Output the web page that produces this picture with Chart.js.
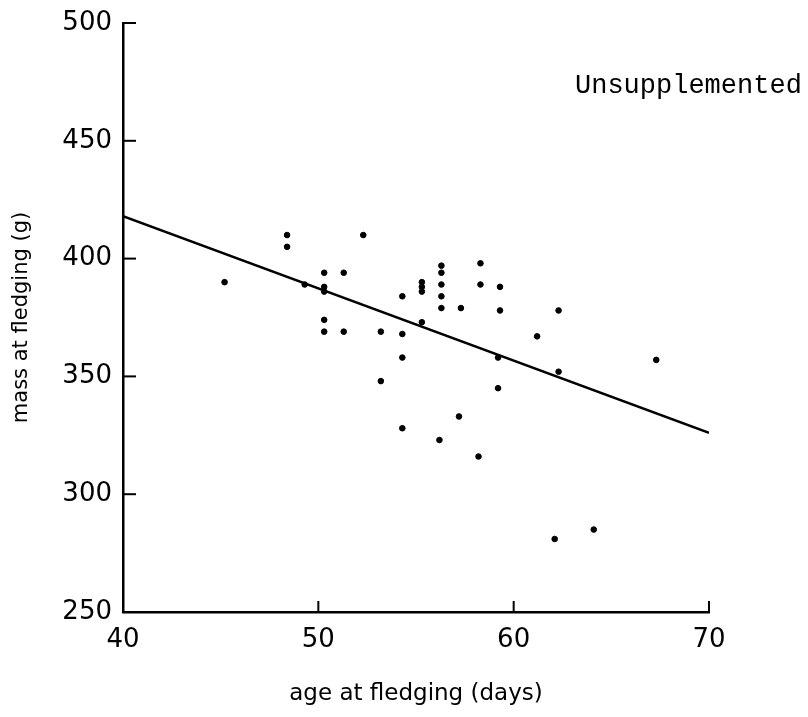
<!DOCTYPE html>
<html>
<head>
<meta charset="utf-8">
<script src="https://cdn.jsdelivr.net/npm/chart.js@4"></script>
<style>
  html, body { margin: 0; padding: 0; background: #fff; }
</style>
</head>
<body>
<canvas id="chart" width="808" height="717"></canvas>
<script>
// fledglings: age (days) and mass (g)
const ageDays = [
  45.2, 48.4, 48.4, 49.3, 50.3, 50.3, 50.3, 50.3, 50.3, 51.3, 51.3, 52.3,
  53.2, 53.2, 54.3, 54.3, 54.3, 54.3, 55.3, 55.3, 55.3, 55.3,
  56.3, 56.3, 56.3, 56.3, 56.3, 56.2, 57.3, 57.2, 58.3, 58.3, 58.2,
  59.3, 59.3, 59.2, 59.2, 61.2, 62.3, 62.3, 62.1, 64.1, 67.3
];
const massGrams = [
  390, 410, 405, 389, 394, 388, 386, 374, 369, 394, 369, 410,
  369, 348, 384, 368, 358, 328, 390, 388, 386, 373,
  397, 394, 389, 384, 379, 323, 379, 333, 398, 389, 316,
  388, 378, 358, 345, 367, 378, 352, 281, 285, 357
];
// fitted regression line end points
const fitAges = [40, 70];
const fitMass = [418, 326];

const xTickValues = [40, 50, 60, 70];
const yTickValues = [250, 300, 350, 400, 450, 500];
const panelLabel = 'Unsupplemented';

const black = '#000';

// tick marks point into the plot, so draw them by hand from the scales
const innerTicks = {
  id: 'innerTicks',
  afterDatasetsDraw(chart) {
    const { ctx, scales: { x, y } } = chart;
    ctx.save();
    ctx.strokeStyle = black;
    ctx.lineWidth = 2;
    xTickValues.forEach(v => {
      const px = x.getPixelForValue(v);
      ctx.beginPath();
      ctx.moveTo(px, x.top);
      ctx.lineTo(px, x.top - 11);
      ctx.stroke();
    });
    yTickValues.forEach(v => {
      const py = y.getPixelForValue(v);
      ctx.beginPath();
      ctx.moveTo(y.right, py);
      ctx.lineTo(y.right + 13, py);
      ctx.stroke();
    });
    ctx.restore();
  }
};

const cornerLabel = {
  id: 'cornerLabel',
  afterDraw(chart) {
    const { ctx, chartArea } = chart;
    ctx.save();
    ctx.fillStyle = black;
    ctx.font = '27px "Liberation Mono"';
    ctx.textAlign = 'left';
    ctx.textBaseline = 'alphabetic';
    ctx.fillText(panelLabel, chartArea.right - 134, chartArea.top + 70);
    ctx.restore();
  }
};

const ctx = document.getElementById('chart').getContext('2d');
const chart = new Chart(ctx, {
  type: 'scatter',
  data: {
    datasets: [
      {
        label: 'fledglings',
        data: ageDays.map((a, i) => ({ x: a, y: massGrams[i] })),
        backgroundColor: black,
        borderColor: black,
        pointRadius: 2.8,
        pointHoverRadius: 2.8,
      },
      {
        type: 'line',
        label: 'fit',
        data: fitAges.map((a, i) => ({ x: a, y: fitMass[i] })),
        borderColor: black,
        borderWidth: 2.5,
        pointRadius: 0,
        fill: false,
      },
    ],
  },
  options: {
    responsive: false,
    animation: false,
    events: [],
    layout: { padding: { left: 0, top: 23, right: 99, bottom: 0 } },
    plugins: {
      legend: { display: false },
      tooltip: { enabled: false },
    },
    scales: {
      x: {
        type: 'linear',
        min: 40,
        max: 70,
        afterBuildTicks: s => { s.ticks = xTickValues.map(v => ({ value: v })); },
        afterFit: s => { s.height = 105; },
        grid: { display: false },
        border: { display: true, color: black, width: 2.5 },
        ticks: {
          color: black,
          padding: 5,
          font: { family: '"DejaVu Sans"', size: 26 },
        },
        title: {
          display: true,
          text: 'age at fledging (days)',
          color: black,
          font: { family: '"DejaVu Sans"', size: 23 },
          padding: { top: 0, bottom: 9 },
        },
      },
      y: {
        type: 'linear',
        min: 250,
        max: 500,
        afterBuildTicks: s => { s.ticks = yTickValues.map(v => ({ value: v })); },
        afterFit: s => { s.width = 123; },
        grid: { display: false },
        border: { display: true, color: black, width: 2.5 },
        ticks: {
          color: black,
          padding: 3,
          font: { family: '"DejaVu Sans"', size: 26 },
        },
        title: {
          display: true,
          text: 'mass at fledging (g)',
          color: black,
          font: { family: '"DejaVu Sans"', size: 21 },
          padding: { top: 9, bottom: 0 },
        },
      },
    },
  },
  plugins: [innerTicks, cornerLabel],
});
</script>
</body>
</html>
